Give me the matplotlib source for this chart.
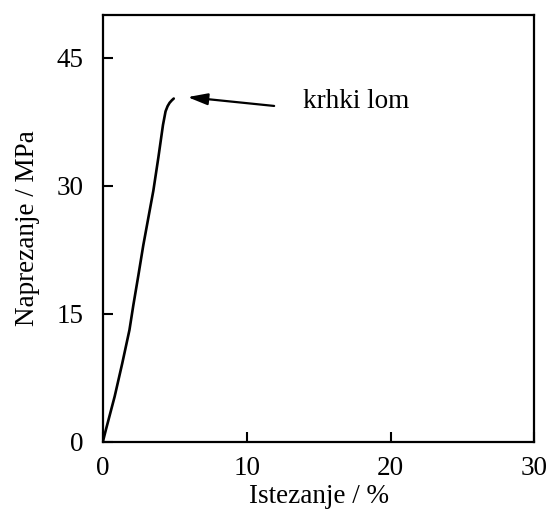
import matplotlib.pyplot as plt

plt.rcParams['font.family'] = ['Liberation Serif', 'DejaVu Serif']

# stress-strain curve points
istezanje = [0.0, 0.21, 0.82, 1.35, 1.85, 2.12, 2.47, 2.81, 3.17,
             3.51, 3.86, 4.18, 4.36, 4.5, 4.64, 4.8, 4.93]
naprezanje = [0.0, 1.4, 5.3, 9.2, 13.1, 16.0, 19.5, 23.0, 26.3,
              29.4, 33.3, 37.1, 38.7, 39.3, 39.7, 40.0, 40.2]

x_ticks = [0, 10, 20, 30]
y_ticks = [0, 15, 30, 45]

fig = plt.figure(figsize=(5.47, 5.12), dpi=100)
ax = fig.add_axes([0.188, 0.137, 0.789, 0.834])

ax.plot(istezanje, naprezanje, color='black', lw=1.9,
        solid_capstyle='round', solid_joinstyle='round')

# arrow pointing at the break
ax.annotate('', xy=(5.7, 40.4), xytext=(12.1, 39.3),
            arrowprops=dict(arrowstyle='-|>,head_length=1.2,head_width=0.35',
                            color='black', lw=1.6))
ax.text(13.9, 39.9, 'krhki lom', fontsize=19.5, va='center', ha='left')

ax.set_xlim(0, 30)
ax.set_ylim(0, 50)
ax.set_xticks(x_ticks)
ax.set_yticks(y_ticks)
ax.tick_params(direction='in', length=7, width=1.5, labelsize=19.5)
ax.tick_params(axis='x', pad=10)
ax.tick_params(axis='y', pad=14)
for s in ax.spines.values():
    s.set_linewidth(1.6)

ax.set_xlabel('Istezanje / %', fontsize=19.5, labelpad=2)
ax.set_ylabel('Naprezanje / MPa', fontsize=19.5, labelpad=12)

fig.savefig('out.png', dpi=100)
